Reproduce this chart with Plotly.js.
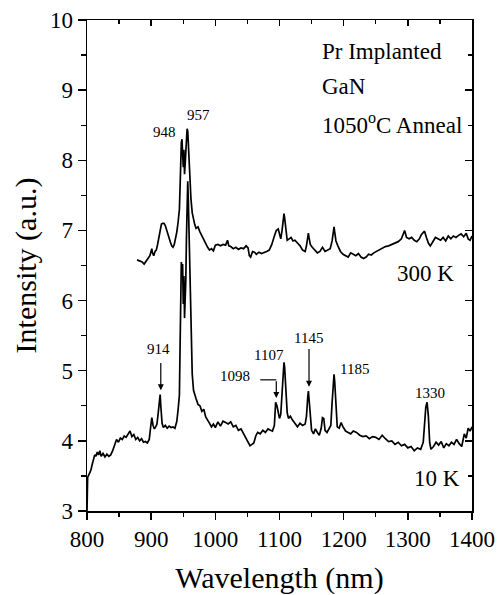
<!DOCTYPE html>
<html>
<head>
<meta charset="utf-8">
<script src="https://cdn.plot.ly/plotly-3.0.1.min.js"></script>
<style>html,body{margin:0;padding:0;background:#fff;}#chart{width:498px;height:595px;}</style>
</head>
<body>
<div id="chart"></div>
<script>
// 10 K spectrum
const wavelength10K = [800, 801, 803, 806, 808, 810, 812, 814, 816, 818, 820, 822, 825, 828, 831, 834, 837, 840, 843, 846, 849, 852, 855, 858, 861, 864, 867, 870, 873, 876, 879, 882, 885, 888, 891, 894, 897, 899, 901, 903, 905, 907, 909, 911, 913, 914, 915, 917, 919, 922, 925, 928, 931, 934, 937, 940, 942, 944, 945, 946, 947, 948, 949, 950, 951, 952, 953, 954, 955, 956, 957, 958, 959, 960, 961, 962, 964, 966, 968, 970, 973, 976, 979, 982, 985, 988, 991, 994, 997, 1000, 1004, 1008, 1012, 1016, 1020, 1024, 1028, 1032, 1036, 1040, 1044, 1048, 1051, 1054, 1057, 1060, 1063, 1066, 1070, 1074, 1078, 1082, 1086, 1089, 1092, 1094, 1096, 1098, 1100, 1102, 1104, 1106, 1107, 1108, 1110, 1112, 1114, 1117, 1120, 1124, 1128, 1132, 1136, 1140, 1142, 1144, 1145, 1146, 1148, 1150, 1153, 1156, 1159, 1162, 1165, 1167, 1169, 1171, 1174, 1177, 1180, 1182, 1184, 1185, 1186, 1188, 1190, 1193, 1196, 1199, 1203, 1207, 1211, 1215, 1220, 1225, 1230, 1235, 1240, 1245, 1250, 1255, 1260, 1265, 1270, 1275, 1280, 1285, 1290, 1295, 1300, 1305, 1310, 1315, 1320, 1324, 1326, 1328, 1330, 1332, 1334, 1336, 1340, 1344, 1348, 1352, 1356, 1360, 1364, 1368, 1372, 1376, 1380, 1384, 1388, 1391, 1394, 1397, 1400];
const intensity10K = [3.0, 3.48, 3.52, 3.58, 3.66, 3.72, 3.80, 3.78, 3.84, 3.80, 3.86, 3.78, 3.82, 3.77, 3.81, 3.78, 3.80, 3.86, 3.95, 4.02, 3.98, 4.04, 4.02, 4.07, 4.05, 4.10, 4.14, 4.06, 4.09, 4.02, 4.05, 4.00, 4.03, 3.98, 3.99, 3.97, 4.02, 4.18, 4.33, 4.22, 4.17, 4.20, 4.24, 4.40, 4.62, 4.66, 4.50, 4.25, 4.19, 4.22, 4.18, 4.21, 4.19, 4.20, 4.18, 4.28, 4.45, 4.65, 5.3, 6.2, 6.55, 6.45, 6.52, 5.95, 6.35, 5.75, 6.0, 6.3, 6.9, 7.6, 7.7, 7.4, 7.0, 6.5, 5.9, 5.4, 4.95, 4.72, 4.65, 4.60, 4.52, 4.50, 4.42, 4.45, 4.34, 4.30, 4.25, 4.20, 4.24, 4.19, 4.27, 4.21, 4.28, 4.26, 4.24, 4.27, 4.20, 4.22, 4.15, 4.17, 4.10, 4.02, 3.97, 3.93, 3.95, 3.97, 4.07, 4.12, 4.10, 4.15, 4.12, 4.17, 4.15, 4.14, 4.22, 4.55, 4.50, 4.40, 4.32, 4.38, 4.70, 5.0, 5.12, 5.05, 4.65, 4.40, 4.32, 4.35, 4.30, 4.24, 4.20, 4.25, 4.22, 4.24, 4.35, 4.62, 4.71, 4.60, 4.30, 4.15, 4.10, 4.17, 4.12, 4.08, 4.18, 4.33, 4.32, 4.15, 4.12, 4.18, 4.22, 4.55, 4.92, 4.95, 4.85, 4.45, 4.20, 4.18, 4.26, 4.20, 4.14, 4.12, 4.10, 4.14, 4.12, 4.08, 4.06, 4.07, 4.03, 4.06, 4.05, 4.02, 4.08, 4.03, 3.99, 4.00, 3.95, 3.98, 3.93, 3.95, 3.90, 3.92, 3.86, 3.90, 3.88, 3.98, 4.20, 4.48, 4.55, 4.35, 3.98, 3.88, 3.92, 3.98, 3.94, 3.99, 3.90, 3.96, 3.93, 3.98, 3.95, 4.02, 3.96, 3.92, 4.10, 4.04, 4.18, 4.14, 4.20];

// 300 K spectrum
const wavelength300K = [878, 882, 886, 889, 892, 895, 898, 900, 901, 902, 904, 906, 908, 910, 912, 914, 916, 918, 920, 922, 924, 926, 928, 930, 932, 934, 936, 938, 940, 942, 944, 945, 946, 947, 948, 949, 950, 951, 952, 953, 954, 955, 956, 957, 958, 959, 960, 962, 964, 966, 968, 970, 973, 976, 979, 982, 985, 988, 991, 994, 997, 1000, 1004, 1008, 1012, 1016, 1019, 1021, 1024, 1028, 1032, 1036, 1040, 1044, 1048, 1051, 1053, 1055, 1058, 1061, 1064, 1068, 1072, 1076, 1080, 1084, 1088, 1092, 1095, 1098, 1100, 1102, 1104, 1106, 1107, 1108, 1110, 1112, 1115, 1118, 1121, 1124, 1128, 1132, 1136, 1140, 1142, 1144, 1145, 1146, 1148, 1151, 1155, 1159, 1163, 1167, 1171, 1175, 1179, 1182, 1184, 1185, 1186, 1188, 1191, 1195, 1199, 1203, 1207, 1211, 1215, 1219, 1223, 1227, 1231, 1235, 1239, 1243, 1247, 1251, 1255, 1260, 1265, 1270, 1275, 1280, 1285, 1290, 1293, 1295, 1298, 1302, 1306, 1310, 1314, 1318, 1321, 1324, 1326, 1329, 1332, 1335, 1339, 1343, 1347, 1351, 1355, 1359, 1363, 1367, 1371, 1375, 1379, 1383, 1387, 1391, 1394, 1397, 1400];
const intensity300K = [6.58, 6.57, 6.55, 6.52, 6.57, 6.60, 6.64, 6.70, 6.74, 6.68, 6.64, 6.70, 6.72, 6.80, 6.92, 7.03, 7.09, 7.10, 7.10, 7.07, 7.00, 6.94, 6.88, 6.83, 6.78, 6.76, 6.80, 6.88, 6.98, 7.12, 7.30, 7.6, 8.0, 8.25, 8.30, 8.10, 7.90, 8.15, 7.80, 7.95, 8.2, 8.35, 8.45, 8.42, 8.20, 8.0, 7.80, 7.45, 7.25, 7.15, 7.08, 7.03, 7.05, 6.98, 6.92, 6.86, 6.80, 6.76, 6.72, 6.74, 6.71, 6.79, 6.80, 6.78, 6.80, 6.79, 6.86, 6.78, 6.77, 6.74, 6.76, 6.73, 6.75, 6.74, 6.78, 6.75, 6.64, 6.62, 6.70, 6.69, 6.66, 6.69, 6.67, 6.68, 6.70, 6.72, 6.80, 6.92, 7.00, 7.02, 6.95, 6.88, 7.00, 7.18, 7.24, 7.18, 6.98, 6.86, 6.88, 6.90, 6.85, 6.86, 6.82, 6.78, 6.72, 6.70, 6.78, 6.92, 6.96, 6.90, 6.80, 6.76, 6.72, 6.68, 6.70, 6.76, 6.70, 6.72, 6.74, 6.85, 7.02, 7.05, 6.98, 6.85, 6.78, 6.70, 6.66, 6.64, 6.62, 6.68, 6.66, 6.64, 6.67, 6.62, 6.60, 6.62, 6.66, 6.65, 6.68, 6.70, 6.72, 6.74, 6.77, 6.78, 6.80, 6.82, 6.84, 6.88, 6.96, 7.00, 6.90, 6.88, 6.90, 6.86, 6.84, 6.88, 6.94, 6.98, 6.99, 6.90, 6.82, 6.78, 6.84, 6.90, 6.88, 6.86, 6.90, 6.85, 6.92, 6.88, 6.92, 6.90, 6.93, 6.95, 6.91, 6.96, 6.88, 6.86, 6.92];

// peak labels
const peakLabels = ["948", "957", "914", "1098", "1107", "1145", "1185", "1330"];
const peakLabelX = [921, 973, 911, 1030, 1083, 1145, 1217, 1334];
const peakLabelY = [8.40, 8.65, 5.31, 4.92, 5.22, 5.47, 5.03, 4.68];

// curve labels
const curveLabels = ["300 K", "10 K"];
const curveLabelX = [1328, 1345];
const curveLabelY = [6.38, 3.47];

// sample info
const infoLines = ["Pr Implanted", "GaN", "1050<sup>o</sup>C Anneal"];
const infoX = [1163, 1163, 1163];
const infoY = [9.55, 9.05, 8.52];

// arrows: from (x,y) to (x,y)
const arrowFromX = [915, 1146, 1095];
const arrowFromY = [5.13, 5.33, 4.87];
const arrowToX = [915, 1146, 1095];
const arrowToY = [4.72, 4.77, 4.61];
// leader for 1098
const leaderX = [1070, 1095];
const leaderY = [4.87, 4.87];

const FONT = "Liberation Serif, Times New Roman, serif";

const traces = [
  {x: wavelength10K, y: intensity10K, mode: "lines", line: {color: "#000", width: 1.7}, hoverinfo: "skip"},
  {x: wavelength300K, y: intensity300K, mode: "lines", line: {color: "#000", width: 1.7}, hoverinfo: "skip"},
  {x: leaderX, y: leaderY, mode: "lines", line: {color: "#000", width: 1.2}, hoverinfo: "skip"},
  {x: [800, 1400], y: [3, 10], xaxis: "x2", yaxis: "y2", mode: "none", hoverinfo: "skip"}
];

const annotations = [];
peakLabels.forEach((t, i) => annotations.push({
  x: peakLabelX[i], y: peakLabelY[i], text: t, showarrow: false,
  font: {family: FONT, size: 15, color: "#000"}, xanchor: "center", yanchor: "middle"
}));
curveLabels.forEach((t, i) => annotations.push({
  x: curveLabelX[i], y: curveLabelY[i], text: t, showarrow: false,
  font: {family: FONT, size: 23, color: "#000"}, xanchor: "center", yanchor: "middle"
}));
infoLines.forEach((t, i) => annotations.push({
  x: infoX[i], y: infoY[i], text: t, showarrow: false,
  font: {family: FONT, size: 23, color: "#000"}, xanchor: "left", yanchor: "middle"
}));
arrowFromX.forEach((ax, i) => annotations.push({
  x: arrowToX[i], y: arrowToY[i], ax: ax, ay: arrowFromY[i], axref: "x", ayref: "y",
  xref: "x", yref: "y", text: "", showarrow: true, arrowhead: 2, arrowsize: 1,
  arrowwidth: 1.2, arrowcolor: "#000", standoff: 0, startstandoff: 0
}));

const tickFont = {family: FONT, size: 23, color: "#000"};
const layout = {
  width: 498, height: 595,
  margin: {l: 87, r: 26, t: 20, b: 84},
  paper_bgcolor: "#fff", plot_bgcolor: "#fff",
  showlegend: false,
  xaxis: {
    range: [800, 1400], dtick: 100, tick0: 800, showgrid: false, zeroline: false,
    showline: true, linecolor: "#000", linewidth: 1.5,
    ticks: "outside", ticklen: 7, tickwidth: 1.5, tickcolor: "#000",
    minor: {dtick: 50, ticks: "outside", ticklen: 4, tickwidth: 1.2, tickcolor: "#000", showgrid: false},
    tickfont: tickFont,
    title: {text: "Wavelength (nm)", font: {family: FONT, size: 30, color: "#000"}, standoff: 16}
  },
  yaxis: {
    range: [3, 10], dtick: 1, tick0: 3, showgrid: false, zeroline: false,
    showline: true, linecolor: "#000", linewidth: 1.5,
    ticks: "outside", ticklen: 8, tickwidth: 1.5, tickcolor: "#000",
    minor: {dtick: 0.5, ticks: "outside", ticklen: 5, tickwidth: 1.2, tickcolor: "#000", showgrid: false},
    tickfont: tickFont,
    title: {text: "Intensity (a.u.)", font: {family: FONT, size: 30, color: "#000"}, standoff: 4}
  },
  xaxis2: {
    overlaying: "x", side: "top", range: [800, 1400], dtick: 100, tick0: 800,
    showgrid: false, zeroline: false, showline: true, linecolor: "#000", linewidth: 1.5,
    ticks: "inside", ticklen: 6, tickwidth: 1.5, tickcolor: "#000", showticklabels: false,
    minor: {dtick: 50, ticks: "inside", ticklen: 4, tickwidth: 1.2, tickcolor: "#000", showgrid: false}
  },
  yaxis2: {
    overlaying: "y", side: "right", range: [3, 10], dtick: 1, tick0: 3,
    showgrid: false, zeroline: false, showline: true, linecolor: "#000", linewidth: 1.5,
    ticks: "inside", ticklen: 7, tickwidth: 1.5, tickcolor: "#000", showticklabels: false,
    minor: {dtick: 0.5, ticks: "inside", ticklen: 4, tickwidth: 1.2, tickcolor: "#000", showgrid: false}
  },
  annotations: annotations
};

Plotly.newPlot("chart", traces, layout, {staticPlot: true, displayModeBar: false});
</script>
</body>
</html>
